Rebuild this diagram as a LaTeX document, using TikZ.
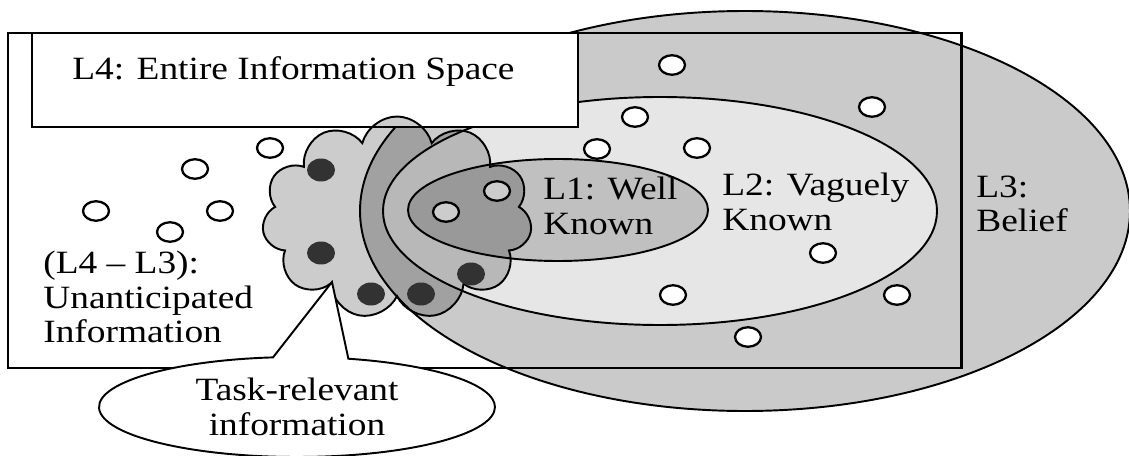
\documentclass[tikz,border=0pt]{standalone}
\usepackage{fontspec}
\setmainfont{Liberation Serif}[FakeStretch=1.15]
\usetikzlibrary{shapes.geometric,shapes.symbols,shapes.callouts}

\definecolor{beliefgray}{RGB}{202,202,202}
\definecolor{vaguegray}{RGB}{230,230,230}
\definecolor{wellgray}{RGB}{192,192,192}
\definecolor{dotdark}{RGB}{50,50,50}

\tikzset{
  level/.style={draw, line width=1.1pt},
  info/.style={ellipse, draw, fill=white, line width=1.3pt, minimum width=0.52cm, minimum height=0.39cm, inner sep=0pt},
  relevant/.style={ellipse, fill=dotdark, minimum width=0.56cm, minimum height=0.46cm, inner sep=0pt},
  lvltext/.style={font=\fontsize{18.5}{19.5}\selectfont, align=left, inner sep=0pt},
}

\begin{document}
\begin{tikzpicture}[x=0.02cm, y=-0.02cm]
    \useasboundingbox (0,0) rectangle (1129,456);
    % L3 > L2 > L1
    \draw[level, fill=beliefgray] (745,211) ellipse [x radius=385, y radius=200];
    \draw[level, fill=vaguegray] (660,211) ellipse [x radius=277, y radius=114];
    \draw[level, fill=wellgray] (558,210) ellipse [x radius=150, y radius=51];
    % L4 frame and its title
    \draw[line width=1.4pt, fill=white] (32,33) rectangle (578,127);
    \draw[line width=1.7pt] (8,33) rectangle (961,368);
    \node[lvltext, anchor=base west] (L4) at (72,80) {L4: Entire Information Space};
    % pieces of information
    \foreach \p [count=\i] in {(96,211),(195,169),(220,211),(170,232),(270,148),
        (672,65),(635,117),(597,149),(697,148),(872,107),(823,253),(673,295),
        (748,337),(897,295),(497,191),(446,212)}
        \node[info] (w\i) at \p {};
    % task-relevant cloud
    \node[cloud, cloud puffs=11, cloud ignores aspect, draw, line width=1.1pt,
        fill=black, fill opacity=0.2, minimum width=5.4cm, minimum height=4.06cm] (cloud) at (397,218) {};
    \foreach \p [count=\i] in {(321,170),(321,253),(371,294),(421,294),(471,274)}
        \node[relevant] (r\i) at \p {};
    \node[lvltext, anchor=west] (L1) at (543,206) {L1: Well\\Known};
    \node[lvltext, anchor=west] (L2) at (722,202) {L2: Vaguely\\Known};
    \node[lvltext, anchor=west] (L3) at (976,204) {L3:\\Belief};
    \node[lvltext, anchor=west] (L43) at (43,297) {(L4 – L3):\\Unanticipated\\Information};
    % callout
    \coordinate (apex) at (332,282);
    \node[ellipse callout, draw, fill=white, line width=1.1pt, lvltext, align=center,
        minimum width=7.92cm, minimum height=2cm,
        callout absolute pointer=(apex), callout pointer arc=22] (task) at (297,407) {Task-relevant\\information};
\end{tikzpicture}
\end{document}
